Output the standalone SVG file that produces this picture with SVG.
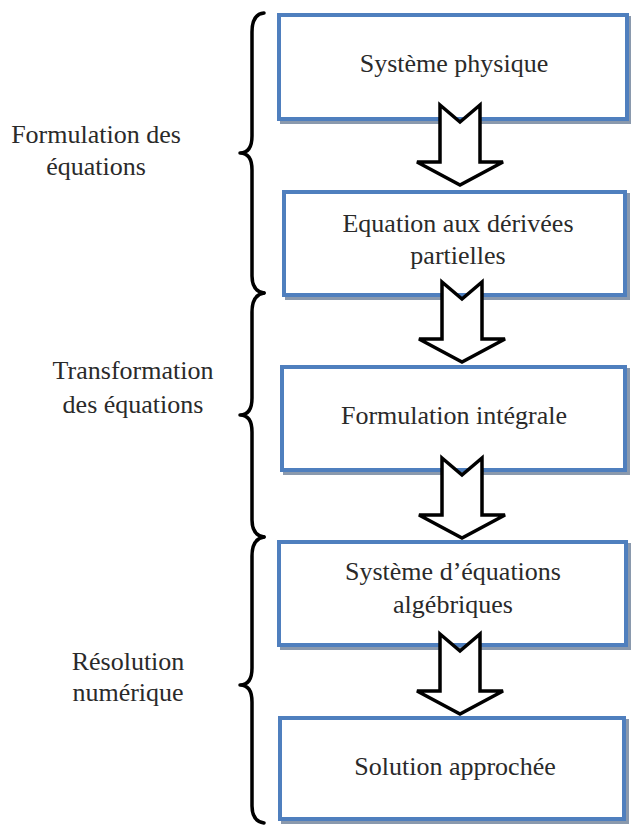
<svg xmlns="http://www.w3.org/2000/svg" width="631" height="825" viewBox="0 0 631 825">
<style>
  .box { fill: #ffffff; stroke: #4f7fbe; stroke-width: 4; }
  .shadow { fill: none; stroke: #6d7f99; stroke-width: 4; opacity: 0.8; }
  .t { font-family: 'Liberation Serif', 'DejaVu Serif', 'Times New Roman', serif; font-size: 26px; fill: #2a2a2a; text-anchor: middle; }
  .brace { fill: none; stroke: #000000; stroke-width: 3.5; stroke-linejoin: round; stroke-linecap: round; }
  .arrow { fill: #ffffff; stroke: #000000; stroke-width: 3.5; stroke-linejoin: miter; }
</style>
<defs>
  <path id="arr" d="M -20,0 L 0,17 L 20,0 L 20,57 L 43,57 L 0,80 L -43,57 L -20,57 Z"/>
</defs>
<rect width="631" height="825" fill="#ffffff"/>

<g id="labels">
  <g id="label-formulation">
    <text class="t" x="96" y="143">Formulation des</text>
    <text class="t" x="96" y="175">équations</text>
  </g>
  <g id="label-transformation">
    <text class="t" x="133" y="379">Transformation</text>
    <text class="t" x="133" y="413">des équations</text>
  </g>
  <g id="label-resolution">
    <text class="t" x="128" y="670">Résolution</text>
    <text class="t" x="128" y="701">numérique</text>
  </g>
</g>

<g id="braces">
  <path class="brace" d="M 264,13 Q 252,14 252,32 L 252,136 Q 252,153 240,153 Q 252,153 252,170 L 252,276 Q 252,291 264,293"/>
  <path class="brace" d="M 264,293 Q 252,295 252,312 L 252,398 Q 252,415 240,415 Q 252,415 252,432 L 252,520 Q 252,535 264,537"/>
  <path class="brace" d="M 264,537 Q 252,539 252,556 L 252,668 Q 252,685 240,685 Q 252,685 252,702 L 252,806 Q 252,821 264,823"/>
</g>

<g id="node1">
  <rect class="shadow" x="282" y="18" width="348" height="104"/>
  <rect class="box" x="279" y="15" width="348" height="104"/>
  <text class="t" x="454" y="72">Système physique</text>
</g>
<g id="node2">
  <rect class="shadow" x="287" y="195" width="341" height="103"/>
  <rect class="box" x="284" y="192" width="341" height="103"/>
  <text class="t" x="458" y="232">Equation aux dérivées</text>
  <text class="t" x="458" y="264">partielles</text>
</g>
<g id="node3">
  <rect class="shadow" x="285" y="370" width="343" height="103"/>
  <rect class="box" x="282" y="367" width="343" height="103"/>
  <text class="t" x="454" y="424">Formulation intégrale</text>
</g>
<g id="node4">
  <rect class="shadow" x="282" y="545" width="347" height="103"/>
  <rect class="box" x="279" y="542" width="347" height="103"/>
  <text class="t" x="453" y="580">Système d’équations</text>
  <text class="t" x="453" y="613">algébriques</text>
</g>
<g id="node5">
  <rect class="shadow" x="283" y="721" width="344" height="101"/>
  <rect class="box" x="280" y="718" width="344" height="101"/>
  <text class="t" x="455" y="775">Solution approchée</text>
</g>

<g id="connectors">
  <use href="#arr" class="arrow" transform="translate(460,105)"/>
  <use href="#arr" class="arrow" transform="translate(462,282)"/>
  <use href="#arr" class="arrow" transform="translate(462,458)"/>
  <use href="#arr" class="arrow" transform="translate(460,634)"/>
</g>
</svg>
